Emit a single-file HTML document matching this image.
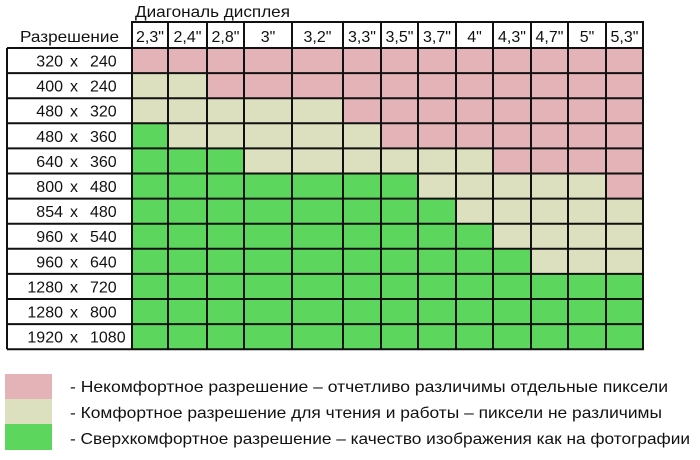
<!DOCTYPE html>
<html><head><meta charset="utf-8"><style>
html,body{margin:0;padding:0;background:#fff;}
svg text{font-family:"Liberation Sans","DejaVu Sans",sans-serif;font-size:16px;fill:#111;}
</style></head><body>
<svg width="700" height="455" xmlns="http://www.w3.org/2000/svg" id="s">
<rect width="700" height="455" fill="#fff"/>
<text x="135" y="17" textLength="155" lengthAdjust="spacingAndGlyphs">Диагональ дисплея</text>
<text x="20" y="42" textLength="99" lengthAdjust="spacingAndGlyphs">Разрешение</text>
<g id="g"></g>
<rect x="5" y="374" width="47" height="25" fill="#e4b3b8"/>
<rect x="5" y="399" width="47" height="25" fill="#dde0bf"/>
<rect x="5" y="424" width="47" height="26" fill="#5cd65c"/>
<text x="70" y="392" textLength="598" lengthAdjust="spacingAndGlyphs">-  Некомфортное разрешение – отчетливо различимы отдельные пиксели</text>
<text x="70" y="418" textLength="592" lengthAdjust="spacingAndGlyphs">-  Комфортное разрешение для чтения и работы – пиксели не различимы</text>
<text x="70" y="444" textLength="620" lengthAdjust="spacingAndGlyphs">-  Сверхкомфортное разрешение – качество изображения как на фотографии</text>
</svg>
<script>
var xs=[132,168,207,244,292,343,381,418,456,493,531,568,606,643];
var hd=['2,3"','2,4"','2,8"','3"','3,2"','3,3"','3,5"','3,7"','4"','4,3"','4,7"','5"','5,3"'];
var rows=[['320','240'],['400','240'],['480','320'],['480','360'],['640','360'],['800','480'],['854','480'],['960','540'],['960','640'],['1280','720'],['1280','800'],['1920','1080']];
var pat=['PPPPPPPPPPPPP','LLPPPPPPPPPPP','LLLLLPPPPPPPP','GLLLLLPPPPPPP','GGGLLLLLLPPPP','GGGGGGGLLLLLP','GGGGGGGGLLLLL','GGGGGGGGGLLLL','GGGGGGGGGGLLL','GGGGGGGGGGGGG','GGGGGGGGGGGGG','GGGGGGGGGGGGG'];
var col={P:'#e4b3b8',L:'#dde0bf',G:'#5cd65c'};
var s='';var y0=48,rh=25.1,ytop=22;
for(var r=0;r<12;r++){var y=y0+r*rh;
 for(var c=0;c<13;c++){s+='<rect x="'+xs[c]+'" y="'+y+'" width="'+(xs[c+1]-xs[c])+'" height="'+rh+'" fill="'+col[pat[r][c]]+'"/>';}
 var ty=y+18.5;
 s+='<text x="63" y="'+ty+'" text-anchor="end">'+rows[r][0]+'</text><text x="74" y="'+ty+'" text-anchor="middle">x</text><text x="90" y="'+ty+'">'+rows[r][1]+'</text>';
}
for(var c=0;c<13;c++){s+='<text x="'+((xs[c]+xs[c+1])/2)+'" y="42" text-anchor="middle">'+hd[c]+'</text>';}
var bot=y0+12*rh;
for(var c=0;c<14;c++){s+='<line x1="'+xs[c]+'" y1="'+ytop+'" x2="'+xs[c]+'" y2="'+bot+'" stroke="#111" stroke-width="2"/>';}
s+='<line x1="131" y1="'+ytop+'" x2="644" y2="'+ytop+'" stroke="#111" stroke-width="2"/>';
for(var r=0;r<=12;r++){var y=y0+r*rh;s+='<line x1="7" y1="'+y+'" x2="644" y2="'+y+'" stroke="#111" stroke-width="2"/>';}
s+='<line x1="7" y1="48" x2="7" y2="'+bot+'" stroke="#111" stroke-width="2"/>';
document.getElementById('g').innerHTML=s;
</script>
</body></html>
